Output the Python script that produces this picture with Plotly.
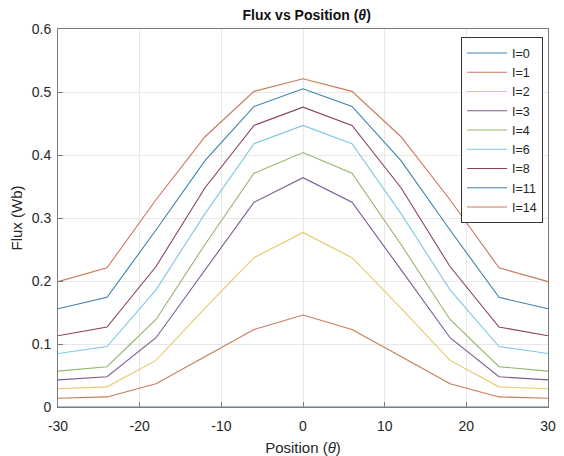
import plotly.graph_objects as go

positions = [-30, -24, -18, -12, -6, 0, 6, 12, 18, 24, 30]

flux_I0 = [0.0, 0.0, 0.0, 0.0, 0.0, 0.0, 0.0, 0.0, 0.0, 0.0, 0.0]
flux_I1 = [0.014, 0.016, 0.037, 0.080, 0.123, 0.146, 0.123, 0.080, 0.037, 0.016, 0.014]
flux_I2 = [0.029, 0.032, 0.074, 0.157, 0.237, 0.277, 0.237, 0.157, 0.074, 0.032, 0.029]
flux_I3 = [0.043, 0.048, 0.110, 0.218, 0.325, 0.364, 0.325, 0.218, 0.110, 0.048, 0.043]
flux_I4 = [0.057, 0.064, 0.139, 0.258, 0.371, 0.404, 0.371, 0.258, 0.139, 0.064, 0.057]
flux_I6 = [0.085, 0.096, 0.186, 0.307, 0.418, 0.447, 0.418, 0.307, 0.186, 0.096, 0.085]
flux_I8 = [0.113, 0.127, 0.223, 0.348, 0.447, 0.476, 0.447, 0.348, 0.223, 0.127, 0.113]
flux_I11 = [0.156, 0.174, 0.281, 0.391, 0.477, 0.505, 0.477, 0.391, 0.281, 0.174, 0.156]
flux_I14 = [0.199, 0.221, 0.329, 0.429, 0.501, 0.521, 0.501, 0.429, 0.329, 0.221, 0.199]

series_names = ["I=0", "I=1", "I=2", "I=3", "I=4", "I=6", "I=8", "I=11", "I=14"]
series_values = [flux_I0, flux_I1, flux_I2, flux_I3, flux_I4, flux_I6, flux_I8, flux_I11, flux_I14]
colors = ["#3b82ad", "#c87a58", "#e8c66a", "#7c5a8e", "#93b56a", "#80c6e4", "#8a4060", "#3b82ad", "#c87a58"]

x_ticks = [-30, -20, -10, 0, 10, 20, 30]
x_ticklabels = ["-30", "-20", "-10", "0", "10", "20", "30"]
y_ticks = [0, 0.1, 0.2, 0.3, 0.4, 0.5, 0.6]
y_ticklabels = ["0", "0.1", "0.2", "0.3", "0.4", "0.5", "0.6"]

fig = go.Figure()
for name, vals, col in zip(series_names, series_values, colors):
    fig.add_trace(go.Scatter(x=positions, y=vals, mode="lines", name=name,
                             line=dict(color=col, width=1.1)))

axis_common = dict(showline=True, mirror=True, linecolor="#7a7a7a", linewidth=1,
                   ticks="inside", ticklen=5, tickcolor="#7a7a7a",
                   showgrid=True, gridcolor="#e8e8e8", gridwidth=1, zeroline=False,
                   automargin=False,
                   tickfont=dict(size=14, color="#262626"))

fig.update_layout(
    width=548, height=448,
    margin=dict(l=50, r=8, t=21, b=49),
    paper_bgcolor="white", plot_bgcolor="white",
    font=dict(family="Liberation Sans, Arial, sans-serif", color="#262626"),
    title=dict(text="<b>Flux vs Position (<i>θ</i>)</b>", x=0.545, xanchor="center",
               y=0.995, yanchor="top", font=dict(size=14, color="#111111")),
    xaxis=dict(range=[-30, 30], tickvals=x_ticks, ticktext=x_ticklabels,
               ticklabelstandoff=6,
               title=dict(text="Position (<i>θ</i>)", font=dict(size=15), standoff=9),
               **axis_common),
    yaxis=dict(range=[0, 0.6], tickvals=y_ticks, ticktext=y_ticklabels,
               ticklabelstandoff=3,
               title=dict(text="Flux (Wb)", font=dict(size=15), standoff=8),
               **axis_common),
    legend=dict(x=0.99, y=0.978, xanchor="right", yanchor="top",
                bgcolor="white", bordercolor="#333333", borderwidth=1,
                font=dict(size=12.5, color="#262626"), itemwidth=40,
                tracegroupgap=0),
    showlegend=True,
)

fig.write_html("out.html")
